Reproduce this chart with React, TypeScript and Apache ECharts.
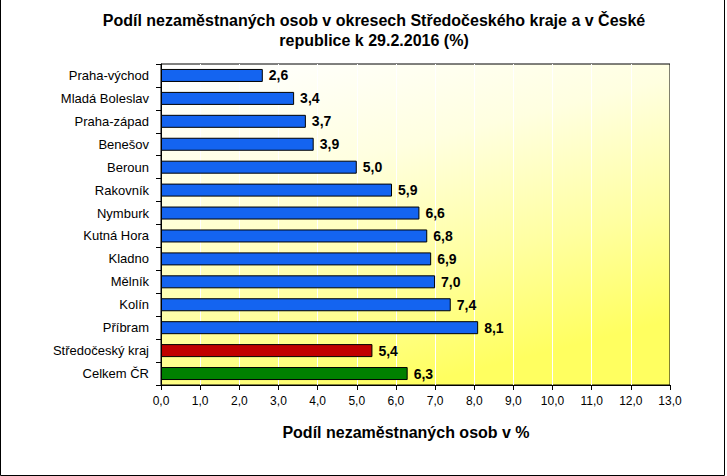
import React, { useEffect, useRef } from "react";
import * as echarts from "echarts";

const categories = [
  "Praha-východ",
  "Mladá Boleslav",
  "Praha-západ",
  "Benešov",
  "Beroun",
  "Rakovník",
  "Nymburk",
  "Kutná Hora",
  "Kladno",
  "Mělník",
  "Kolín",
  "Příbram",
  "Středočeský kraj",
  "Celkem ČR",
];
const values = [2.6, 3.4, 3.7, 3.9, 5.0, 5.9, 6.6, 6.8, 6.9, 7.0, 7.4, 8.1, 5.4, 6.3];
const barColors = [
  "#1464f0", "#1464f0", "#1464f0", "#1464f0", "#1464f0", "#1464f0", "#1464f0",
  "#1464f0", "#1464f0", "#1464f0", "#1464f0", "#1464f0", "#c00000", "#008000",
];
const titleLines = [
  "Podíl nezaměstnaných osob v okresech Středočeského kraje a v České",
  "republice k 29.2.2016 (%)",
];
const xAxisTitle = "Podíl nezaměstnaných osob v %";

const fmt = (v: number) => v.toFixed(1).replace(".", ",");
const FONT = "'Liberation Sans', Arial, sans-serif";

export default function App() {
  const ref = useRef<HTMLDivElement>(null);
  useEffect(() => {
    document.body.style.margin = "0";
    const chart = echarts.init(ref.current!, null, { renderer: "svg" });
    const boldText = (text: string, x: number, y: number) => ({
      type: "text",
      x,
      y,
      style: {
        text,
        fontSize: 16,
        fontWeight: "bold",
        fontFamily: FONT,
        fill: "#000",
        align: "center",
        verticalAlign: "middle",
      },
    });
    chart.setOption({
      animation: false,
      backgroundColor: "#ffffff",
      textStyle: { fontFamily: FONT },
      grid: {
        left: 161,
        right: 57,
        top: 64,
        bottom: 91,
        show: true,
        borderColor: "#000",
        borderWidth: 1,
        backgroundColor: {
          type: "linear",
          x: 0.1,
          y: 0,
          x2: 0.5,
          y2: 1,
          colorStops: [
            { offset: 0, color: "#ffffff" },
            { offset: 0.35, color: "#ffffe0" },
            { offset: 0.7, color: "#ffffa0" },
            { offset: 1, color: "#ffff60" },
          ],
        },
      },
      xAxis: {
        type: "value",
        min: 0,
        max: 13,
        interval: 1,
        axisLine: { show: true, lineStyle: { color: "#000", width: 1 } },
        axisTick: { show: true, length: 5, lineStyle: { color: "#000" } },
        axisLabel: {
          color: "#000",
          fontSize: 12,
          fontFamily: FONT,
          margin: 10,
          formatter: (v: number) => fmt(v),
        },
        splitLine: { show: true, lineStyle: { color: "#ffffff", width: 1 } },
      },
      yAxis: {
        type: "category",
        data: categories,
        inverse: true,
        axisLine: { show: true, lineStyle: { color: "#000", width: 1 } },
        axisTick: { show: true, length: 5, lineStyle: { color: "#000" } },
        axisLabel: { color: "#000", fontSize: 13, fontFamily: FONT, margin: 12 },
        splitLine: { show: false },
      },
      series: [
        {
          type: "bar",
          data: values.map((v, i) => ({
            value: v,
            itemStyle: { color: barColors[i] },
          })),
          barWidth: 13,
          itemStyle: { borderColor: "#000", borderWidth: 1 },
          label: {
            show: true,
            position: "right",
            distance: 6,
            color: "#000",
            fontWeight: "bold",
            fontSize: 14,
            fontFamily: FONT,
            formatter: (p: any) => fmt(p.value),
          },
        },
      ],
      graphic: [
        boldText(titleLines[0], 374, 20),
        boldText(titleLines[1], 374, 40),
        boldText(xAxisTitle, 406, 432),
        {
          type: "polyline",
          shape: { points: [[0.5, 0], [0.5, 475.5], [724.5, 475.5], [724.5, 0]] },
          style: { stroke: "#000", lineWidth: 1, fill: null },
        },
      ],
    });
    return () => chart.dispose();
  }, []);
  return (
    <div
      ref={ref}
      style={{ position: "absolute", left: 0, top: 0, width: 727, height: 476 }}
    />
  );
}
